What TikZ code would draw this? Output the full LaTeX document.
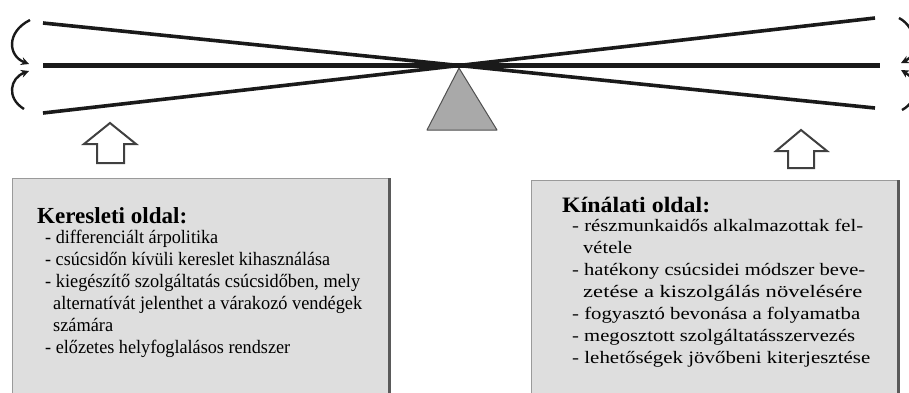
\documentclass[tikz,border=0pt]{standalone}
\usepackage{fontspec}
\usepackage{graphicx}
\setmainfont{Liberation Serif}
\usetikzlibrary{arrows.meta}
\definecolor{boxfill}{HTML}{DEDEDE}
\definecolor{boxlight}{HTML}{9A9A9A}
\definecolor{boxdark}{HTML}{5A5A5A}
\definecolor{pivotfill}{HTML}{A9A9A9}
\definecolor{pivotline}{HTML}{505050}
\definecolor{ink}{HTML}{1A1A1A}
\definecolor{hollow}{HTML}{404040}
\newcommand{\fitw}[2]{\resizebox{#1pt}{\height}{#2}}
\tikzset{
  beam/.style={draw=ink, line width=5pt},
  slant/.style={draw=ink, line width=3.6pt},
  swing/.style={draw=ink, line width=2.4pt, -{Stealth[length=8pt,width=8pt]}},
  hollowarrow/.style={draw=hollow, line width=2pt, fill=white, line join=miter},
  panel/.style={fill=boxfill, inner sep=0pt, anchor=north west},
  lightedge/.style={draw=boxlight, line width=1pt},
  darkedge/.style={draw=boxdark, line width=2.2pt},
  ltitle/.style={anchor=base west, inner sep=0pt, font=\fontsize{23}{26}\selectfont\bfseries},
  rtitle/.style={anchor=base west, inner sep=0pt, font=\fontsize{22}{26}\selectfont\bfseries},
  lline/.style={anchor=base west, inner sep=0pt, font=\fontsize{19}{22}\selectfont},
  rline/.style={anchor=base west, inner sep=0pt, font=\fontsize{17.5}{22}\selectfont},
}
\begin{document}
\begin{tikzpicture}[x=1pt,y=-1pt]
\useasboundingbox (0,0) rectangle (909,392);
% beam
\coordinate (hL) at (43,65); \coordinate (hR) at (880,65);
\coordinate (aL) at (43,23); \coordinate (aR) at (875,108);
\coordinate (bL) at (43,113); \coordinate (bR) at (875,18);
% pivot
\coordinate (pA) at (459,68); \coordinate (pB) at (497,130); \coordinate (pC) at (427,130);
\fill[pivotfill, draw=pivotline, line width=1pt, line join=round] (pA) -- (pB) -- (pC) -- cycle;
\path[slant] (aL) -- (aR);
\path[slant] (bL) -- (bR);
\path[beam] (hL) -- (hR);
% swing arrows left
\coordinate (s1) at (30,20); \coordinate (e1) at (29,64);
\coordinate (s2) at (24,109); \coordinate (e2) at (29,71);
\path[swing] (s1) .. controls (6,32) and (8,56) .. (e1);
\path[swing] (s2) .. controls (6,98) and (10,78) .. (e2);
% swing arrows right
\coordinate (s3) at (899,18); \coordinate (e3) at (901,63);
\coordinate (s4) at (902,110); \coordinate (e4) at (901,70);
\path[swing] (s3) .. controls (918,28) and (918,55) .. (e3);
\path[swing] (s4) .. controls (920,100) and (918,80) .. (e4);
% hollow arrows
\path[hollowarrow] (110,123) -- (136,144) -- (124,144) -- (124,163) -- (97,163) -- (97,144) -- (84,144) -- cycle;
\path[hollowarrow] (801,130) -- (827,151) -- (814,151) -- (814,168) -- (788,168) -- (788,151) -- (776,151) -- cycle;
% left panel
\node[panel, minimum width=377pt, minimum height=216pt] (lbox) at (12,178) {};
\path[lightedge] (lbox.south west) -- (lbox.north west) -- (lbox.north east);
\path[darkedge] (lbox.north east) -- (lbox.south east);
\node[ltitle] (lt) at (37,223) {\fitw{150}{Keresleti oldal:}};
\node[lline] (l1) at (45,243) {\fitw{173}{- differenciált árpolitika}};
\node[lline] (l2) at (45,265) {\fitw{285}{- csúcsidőn kívüli kereslet kihasználása}};
\node[lline] (l3) at (45,287) {\fitw{315}{- kiegészítő szolgáltatás csúcsidőben, mely}};
\node[lline] (l4) at (53,309) {\fitw{309}{alternatívát jelenthet a várakozó vendégek}};
\node[lline] (l5) at (53,331) {\fitw{60}{számára}};
\node[lline] (l6) at (45,353) {\fitw{245}{- előzetes helyfoglalásos rendszer}};
% right panel
\node[panel, minimum width=367pt, minimum height=214pt] (rbox) at (531,180) {};
\path[lightedge] (rbox.south west) -- (rbox.north west) -- (rbox.north east);
\path[darkedge] (rbox.north east) -- (rbox.south east);
\node[rtitle] (rt) at (562,212) {\fitw{148}{Kínálati oldal:}};
\node[rline] (r1) at (572,231) {\fitw{291}{- részmunkaidős alkalmazottak fel-}};
\node[rline] (r2) at (583,253) {\fitw{49}{vétele}};
\node[rline] (r3) at (572,275) {\fitw{293}{- hatékony csúcsidei módszer beve-}};
\node[rline] (r4) at (583,297) {\fitw{279}{zetése a kiszolgálás növelésére}};
\node[rline] (r5) at (572,319) {\fitw{288}{- fogyasztó bevonása a folyamatba}};
\node[rline] (r6) at (572,341) {\fitw{283}{- megosztott szolgáltatásszervezés}};
\node[rline] (r7) at (572,363) {\fitw{298}{- lehetőségek jövőbeni kiterjesztése}};
\end{tikzpicture}
\end{document}
